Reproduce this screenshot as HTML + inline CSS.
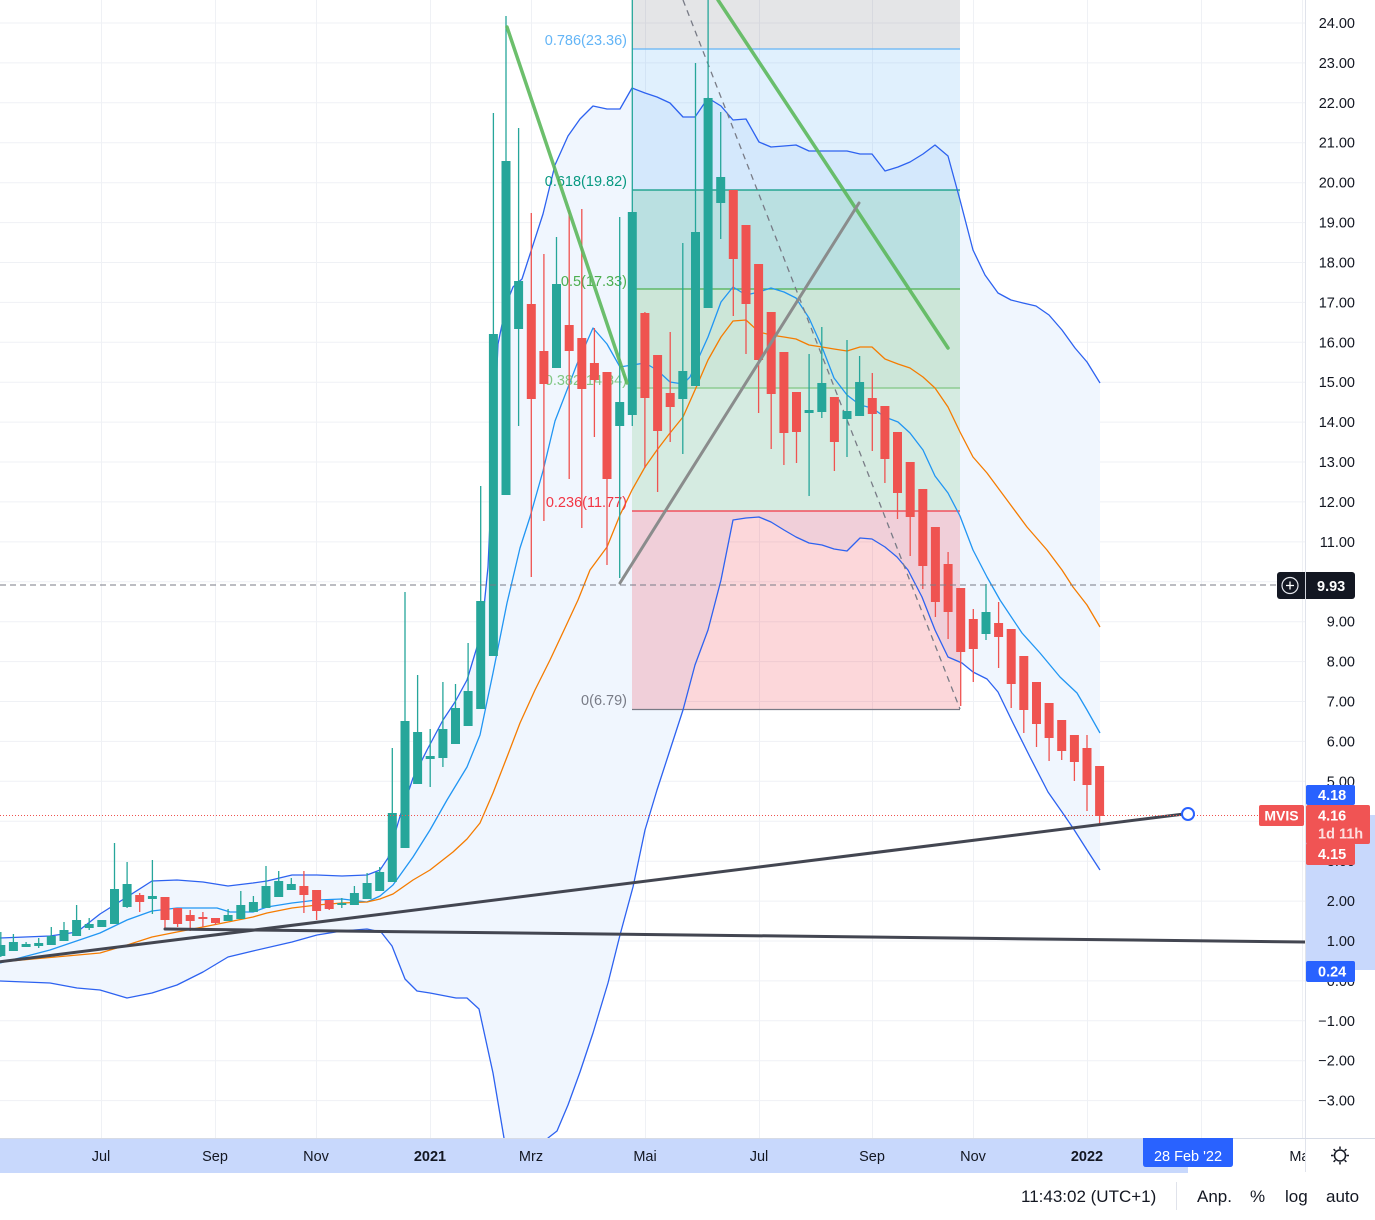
<!DOCTYPE html>
<html><head><meta charset="utf-8"><style>
html,body{margin:0;padding:0;background:#fff;}
svg{display:block;font-family:"Liberation Sans",Arial,sans-serif;}
</style></head><body>
<svg width="1375" height="1220" viewBox="0 0 1375 1220" xmlns="http://www.w3.org/2000/svg">
<defs>
<clipPath id="cc"><rect x="0" y="0" width="1305" height="1138"/></clipPath>
<clipPath id="tc"><rect x="0" y="1138" width="1305" height="40"/></clipPath>
</defs>
<rect width="1375" height="1220" fill="#fff"/>
<g clip-path="url(#cc)">
<!-- grid -->
<g stroke="#eff1f5" stroke-width="1">
<path d="M0 23H1305M0 62.9H1305M0 102.8H1305M0 142.7H1305M0 182.7H1305M0 222.6H1305M0 262.5H1305M0 302.4H1305M0 342.3H1305M0 382.2H1305M0 422.1H1305M0 462H1305M0 501.9H1305M0 541.9H1305M0 581.8H1305M0 621.7H1305M0 661.6H1305M0 701.5H1305M0 741.4H1305M0 781.3H1305M0 821.3H1305M0 861.2H1305M0 901.1H1305M0 941H1305M0 980.9H1305M0 1020.8H1305M0 1060.7H1305M0 1100.6H1305"/>
<path d="M101.5 0V1138M215.5 0V1138M316.5 0V1138M430.5 0V1138M531.5 0V1138M645.5 0V1138M759.5 0V1138M872.5 0V1138M973.5 0V1138M1087.5 0V1138M1201.5 0V1138M1302.5 0V1138"/>
</g>
<!-- BB fill -->
<path fill="#f0f6fe" d="M0 938L50 936L77 932L100 914L127 897L152 881L177 880L203 882L228 886L253 883L267 881L292 875L317 875L342 876L367 875L380 870L388 858L393 840L401 813L410 787L413 778L427 750L443 720L455 702L467 680L477 647L482 627L488 567L493 455L498 344L506 305L513 287L522 279L543 214L555 165L568 136L580 119L593 106L607 109L620 109L632 88L645 93L657 97L670 103L683 117L695 117L708 98L721 106L733 120L746 119L759 142L771 147L784 146L796 145L809 151L822 151L834 151L847 151L860 154L872 154L885 171L898 167L910 162L923 154L935 145L948 156L960 200L973 250L985 275L998 293L1011 300L1023 303L1036 306L1049 315L1062 330L1075 348L1087 362L1100 383L1100 870L1087 850L1073 828L1062 812L1048 792L1030 757L1013 723L998 692L987 679L973 672L962 663L948 657L935 630L922 597L908 570L897 557L885 547L872 539L860 538L847 551L834 549L822 545L809 543L796 537L784 530L771 522L759 517L746 518L733 520L721 580L708 630L695 665L683 710L670 750L657 790L645 830L633 887L620 935L608 983L593 1033L580 1072L568 1105L557 1131L548 1138L545 1170L508 1170L504 1138L493 1073L479 1009L467 998L456 998L430 993L417 991L405 979L392 946L381 932L367 929L342 931L317 935L292 942L253 951L228 957L203 972L177 985L152 993L127 998L100 990L77 988L50 983L0 981Z"/>
<!-- fib zones -->
<rect x="632" y="0" width="328" height="49" fill="#787b86" fill-opacity="0.2"/>
<rect x="632" y="49" width="328" height="141" fill="#64b5f6" fill-opacity="0.2"/>
<rect x="632" y="190" width="328" height="99" fill="#089981" fill-opacity="0.23"/>
<rect x="632" y="289" width="328" height="99" fill="#4caf50" fill-opacity="0.22"/>
<rect x="632" y="388" width="328" height="123" fill="#81c784" fill-opacity="0.24"/>
<rect x="632" y="511" width="328" height="198" fill="#f23645" fill-opacity="0.2"/>
<g stroke-width="1.2">
<path d="M632 49H960" stroke="#64b5f6"/>
<path d="M632 190H960" stroke="#089981"/>
<path d="M632 289H960" stroke="#4caf50"/>
<path d="M632 388H960" stroke="#81c784"/>
<path d="M632 511H960" stroke="#f23645"/>
<path d="M632 709.5H960" stroke="#787b86"/>
</g>
<!-- BB lines -->
<g fill="none" stroke-width="1.3" stroke-linejoin="round">
<polyline stroke="#2d62f0" points="0,938 50,936 77,932 100,914 127,897 152,881 177,880 203,882 228,886 253,883 267,881 292,875 317,875 342,876 367,875 380,870 388,858 393,840 401,813 410,787 413,778 427,750 443,720 455,702 467,680 477,647 482,627 488,567 493,455 498,344 506,305 513,287 522,279 543,214 555,165 568,136 580,119 593,106 607,109 620,109 632,88 645,93 657,97 670,103 683,117 695,117 708,98 721,106 733,120 746,119 759,142 771,147 784,146 796,145 809,151 822,151 834,151 847,151 860,154 872,154 885,171 898,167 910,162 923,154 935,145 948,156 960,200 973,250 985,275 998,293 1011,300 1023,303 1036,306 1049,315 1062,330 1075,348 1087,362 1100,383"/>
<polyline stroke="#2d62f0" points="0,981 50,983 77,988 100,990 127,998 152,993 177,985 203,972 228,957 253,951 292,942 317,935 342,931 367,929 381,932 392,946 405,979 417,991 430,993 456,998 467,998 479,1009 493,1073 504,1138 508,1170 545,1170 548,1138 557,1131 568,1105 580,1072 593,1033 608,983 620,935 633,887 645,830 657,790 670,750 683,710 695,665 708,630 721,580 733,520 746,518 759,517 771,522 784,530 796,537 809,543 822,545 834,549 847,551 860,538 872,539 885,547 897,557 908,570 922,597 935,630 948,657 962,663 973,672 987,679 998,692 1013,723 1030,757 1048,792 1062,812 1073,828 1087,850 1100,870"/>
<polyline stroke="#2196f3" points="0,963 50,950 100,933 127,920 152,911 177,908 203,908 217,908 230,912 253,912 267,907 292,903 317,900 342,899 367,902 380,896 393,885 413,857 430,830 447,800 467,767 480,735 493,673 507,603 520,548 530,517 543,471 555,421 567,390 577,364 593,328 607,344 620,367 632,365 645,363 657,370 670,382 683,384 690,377 708,337 721,302 733,287 746,295 759,292 771,288 784,292 796,298 809,318 822,347 834,378 847,395 860,405 872,408 885,417 898,422 910,433 923,450 935,476 948,493 960,516 973,550 987,577 1000,600 1022,633 1040,653 1060,677 1077,693 1087,710 1100,733"/>
<polyline stroke="#f57c00" points="0,962 100,953 127,945 152,937 177,932 203,927 228,922 253,917 267,913 292,908 317,905 342,903 367,902 380,899 393,894 413,880 430,870 453,852 467,839 480,823 493,793 507,757 520,723 535,690 550,660 565,628 578,600 590,570 607,547 620,515 632,490 645,467 657,450 670,433 683,417 695,390 708,360 721,337 733,321 746,320 759,332 771,335 784,337 796,339 809,345 822,347 834,349 847,351 860,347 872,347 885,359 898,364 910,368 923,377 935,388 948,407 960,432 973,457 987,473 1007,500 1027,527 1047,550 1062,570 1073,587 1087,605 1100,627"/>
</g>
<!-- fib labels -->
<g font-size="14.5" text-anchor="end">
<text x="627" y="45" fill="#64b5f6">0.786(23.36)</text>
<text x="627" y="186" fill="#089981">0.618(19.82)</text>
<text x="627" y="286" fill="#4caf50">0.5(17.33)</text>
<text x="627" y="385" fill="#81c784">0.382(14.84)</text>
<text x="627" y="507" fill="#f23645">0.236(11.77)</text>
<text x="627" y="705" fill="#787b86">0(6.79)</text>
</g>
<!-- fib trend dashed -->
<path d="M683 0L960 709" stroke="#787b86" stroke-width="1.3" stroke-dasharray="6 5" fill="none"/>
<!-- candles teal -->
<path fill="none" stroke="#26a69a" stroke-width="1.3" d="M0.8 932V957M13.4 934V951M26.1 942V947M38.7 938V948M51.3 927V945M64 922V941M76.6 905V936M89.2 918V930M101.8 920V927M114.5 843V924M127.1 862V908M152.4 860V914M228.1 909V921M240.8 891V919M253.4 896V912M266 866V908M278.7 871V897M291.3 878V890M341.8 898V908M354.4 886V905M367.1 873V899M379.7 867V891M392.3 748V882M405 592V848M417.6 675V784M430.2 729V787M442.9 682V767M455.5 684V744M468.1 643V726M480.7 486V709M493.4 113V656M506 16V495M518.6 128V426M556.5 237V368M619.7 217V578M632.3 0V426M682.8 243V454M695.5 63V386M708.1 0V308M720.7 112V239M809.1 354V496M821.8 327V418M847 340V457M859.6 356V416M986 584V640"/>
<g fill="#26a69a">
<rect x="-3.7" y="945" width="9" height="11"/>
<rect x="8.9" y="942" width="9" height="9"/>
<rect x="21.6" y="944" width="9" height="3"/>
<rect x="34.2" y="943" width="9" height="3"/>
<rect x="46.8" y="936" width="9" height="9"/>
<rect x="59.5" y="930" width="9" height="11"/>
<rect x="72.1" y="920" width="9" height="16"/>
<rect x="84.7" y="924" width="9" height="4"/>
<rect x="97.3" y="920" width="9" height="7"/>
<rect x="110" y="889" width="9" height="35"/>
<rect x="122.6" y="884" width="9" height="23"/>
<rect x="147.9" y="896" width="9" height="3"/>
<rect x="223.6" y="915" width="9" height="6"/>
<rect x="236.3" y="905" width="9" height="14"/>
<rect x="248.9" y="902" width="9" height="10"/>
<rect x="261.5" y="886" width="9" height="22"/>
<rect x="274.2" y="881" width="9" height="16"/>
<rect x="286.8" y="884" width="9" height="6"/>
<rect x="337.3" y="903" width="9" height="2"/>
<rect x="349.9" y="893" width="9" height="12"/>
<rect x="362.6" y="883" width="9" height="16"/>
<rect x="375.2" y="872" width="9" height="19"/>
<rect x="387.8" y="813" width="9" height="69"/>
<rect x="400.5" y="721" width="9" height="127"/>
<rect x="413.1" y="732" width="9" height="52"/>
<rect x="425.7" y="756" width="9" height="3"/>
<rect x="438.4" y="729" width="9" height="29"/>
<rect x="451" y="708" width="9" height="36"/>
<rect x="463.6" y="691" width="9" height="35"/>
<rect x="476.2" y="601" width="9" height="108"/>
<rect x="488.9" y="334" width="9" height="322"/>
<rect x="501.5" y="161" width="9" height="334"/>
<rect x="514.1" y="281" width="9" height="48"/>
<rect x="552" y="284" width="9" height="84"/>
<rect x="615.2" y="402" width="9" height="24"/>
<rect x="627.8" y="212" width="9" height="203"/>
<rect x="678.3" y="371" width="9" height="28"/>
<rect x="691" y="232" width="9" height="154"/>
<rect x="703.6" y="98" width="9" height="210"/>
<rect x="716.2" y="177" width="9" height="26"/>
<rect x="804.6" y="410" width="9" height="3"/>
<rect x="817.3" y="383" width="9" height="29"/>
<rect x="842.5" y="411" width="9" height="8"/>
<rect x="855.1" y="382" width="9" height="34"/>
<rect x="981.5" y="612" width="9" height="22"/>
</g>
<!-- candles red -->
<path fill="none" stroke="#ef5350" stroke-width="1.3" d="M139.7 893V912M165 897V930M177.6 908V927M190.2 910V931M202.9 912V927M215.5 918V925M303.9 871V913M316.6 890V920M329.2 900V910M531.3 213V577M543.9 254V521M569.2 210V479M581.8 209V528M594.4 328V437M607 372V565M644.9 312V468M657.6 355V492M670.2 332V442M733.3 190V316M746 225V354M758.6 264V413M771.2 312V449M783.9 352V465M796.5 392V463M834.4 397V471M872.3 373V451M884.9 406V483M897.5 432V519M910.2 462V556M922.8 489V589M935.4 527V617M948.1 552V639M960.7 588V706M973.3 609V682M998.6 602V668M1011.2 629V708M1023.8 656V733M1036.5 682V747M1049.1 703V761M1061.7 720V760M1074.4 735V781M1087 735V811M1099.6 766V824"/>
<g fill="#ef5350">
<rect x="135.2" y="895" width="9" height="7"/>
<rect x="160.5" y="897" width="9" height="23"/>
<rect x="173.1" y="908" width="9" height="16"/>
<rect x="185.7" y="915" width="9" height="6"/>
<rect x="198.4" y="917" width="9" height="2"/>
<rect x="211" y="918" width="9" height="5"/>
<rect x="299.4" y="886" width="9" height="9"/>
<rect x="312.1" y="890" width="9" height="21"/>
<rect x="324.7" y="900" width="9" height="9"/>
<rect x="526.8" y="304" width="9" height="95"/>
<rect x="539.4" y="351" width="9" height="33"/>
<rect x="564.7" y="325" width="9" height="26"/>
<rect x="577.3" y="338" width="9" height="51"/>
<rect x="589.9" y="363" width="9" height="17"/>
<rect x="602.5" y="372" width="9" height="107"/>
<rect x="640.4" y="313" width="9" height="85"/>
<rect x="653.1" y="355" width="9" height="76"/>
<rect x="665.7" y="393" width="9" height="14"/>
<rect x="728.8" y="190" width="9" height="69"/>
<rect x="741.5" y="225" width="9" height="79"/>
<rect x="754.1" y="264" width="9" height="96"/>
<rect x="766.7" y="312" width="9" height="82"/>
<rect x="779.4" y="352" width="9" height="81"/>
<rect x="792" y="392" width="9" height="40"/>
<rect x="829.9" y="397" width="9" height="45"/>
<rect x="867.8" y="398" width="9" height="16"/>
<rect x="880.4" y="406" width="9" height="53"/>
<rect x="893" y="432" width="9" height="61"/>
<rect x="905.7" y="462" width="9" height="55"/>
<rect x="918.3" y="489" width="9" height="77"/>
<rect x="930.9" y="527" width="9" height="75"/>
<rect x="943.6" y="564" width="9" height="48"/>
<rect x="956.2" y="588" width="9" height="64"/>
<rect x="968.8" y="619" width="9" height="30"/>
<rect x="994.1" y="623" width="9" height="14"/>
<rect x="1006.7" y="629" width="9" height="55"/>
<rect x="1019.3" y="656" width="9" height="54"/>
<rect x="1032" y="682" width="9" height="42"/>
<rect x="1044.6" y="703" width="9" height="35"/>
<rect x="1057.2" y="720" width="9" height="31"/>
<rect x="1069.9" y="735" width="9" height="27"/>
<rect x="1082.5" y="748" width="9" height="37"/>
<rect x="1095.1" y="766" width="9" height="50"/>
</g>
<!-- drawings -->
<g fill="none" stroke-linecap="round">
<path d="M507 27L627 383" stroke="#5cb85c" stroke-opacity="0.9" stroke-width="3.5"/>
<path d="M718 0L948 348" stroke="#5cb85c" stroke-opacity="0.9" stroke-width="3.5"/>
<path d="M620 583L859 203" stroke="#8a8c8c" stroke-width="3"/>
<path d="M-2 962L1188 813.5" stroke="#434651" stroke-width="3"/>
<path d="M165 929L1305 942" stroke="#434651" stroke-width="3"/>
</g>
<path d="M0 585H1278" stroke="#787b86" stroke-width="1" stroke-dasharray="6 4"/>
<path d="M0 815.5H1260" stroke="#ef5350" stroke-width="1" stroke-dasharray="1 2"/>
<circle cx="1188" cy="814" r="6" fill="#fff" stroke="#2962ff" stroke-width="2"/>
</g>
<!-- price axis -->
<rect x="1306" y="815" width="69" height="155" fill="#c8d8fc"/>
<path d="M1305.5 0V1172" stroke="#e0e3eb" stroke-width="1"/>
<g font-size="14.5" fill="#131722" text-anchor="end">
<text x="1355" y="28">24.00</text>
<text x="1355" y="67.9">23.00</text>
<text x="1355" y="107.8">22.00</text>
<text x="1355" y="147.7">21.00</text>
<text x="1355" y="187.7">20.00</text>
<text x="1355" y="227.6">19.00</text>
<text x="1355" y="267.5">18.00</text>
<text x="1355" y="307.4">17.00</text>
<text x="1355" y="347.3">16.00</text>
<text x="1355" y="387.2">15.00</text>
<text x="1355" y="427.1">14.00</text>
<text x="1355" y="467">13.00</text>
<text x="1355" y="506.9">12.00</text>
<text x="1355" y="546.9">11.00</text>
<text x="1355" y="626.7">9.00</text>
<text x="1355" y="666.6">8.00</text>
<text x="1355" y="706.5">7.00</text>
<text x="1355" y="746.4">6.00</text>
<text x="1355" y="786.3">5.00</text>
<text x="1355" y="866.2">3.00</text>
<text x="1355" y="906.1">2.00</text>
<text x="1355" y="946">1.00</text>
<text x="1355" y="985.9">0.00</text>
<text x="1355" y="1025.8">−1.00</text>
<text x="1355" y="1065.7">−2.00</text>
<text x="1355" y="1105.6">−3.00</text>
</g>
<!-- price labels -->
<rect x="1306" y="785" width="49" height="20" rx="2" fill="#2962ff"/>
<text x="1318" y="800" font-size="14.5" font-weight="bold" fill="#fff">4.18</text>
<rect x="1259" y="805" width="45" height="21" rx="2" fill="#f05454"/>
<text x="1281.5" y="820.5" font-size="14" font-weight="bold" fill="#fff" text-anchor="middle">MVIS</text>
<rect x="1306" y="805" width="64" height="39" rx="2" fill="#f05454"/>
<text x="1318" y="820.5" font-size="14.5" font-weight="bold" fill="#fff">4.16</text>
<text x="1318" y="838.5" font-size="14.5" font-weight="bold" fill="#fff" fill-opacity="0.82">1d 11h</text>
<rect x="1306" y="843" width="49" height="22" rx="2" fill="#f05454"/>
<text x="1318" y="859" font-size="14.5" font-weight="bold" fill="#fff">4.15</text>
<rect x="1306" y="961" width="49" height="21" rx="2" fill="#2962ff"/>
<text x="1318" y="976.5" font-size="14.5" font-weight="bold" fill="#fff">0.24</text>
<rect x="1277" y="572" width="78" height="27" rx="3" fill="#131722"/>
<path d="M1305.5 572V599" stroke="#d0d3db" stroke-width="1"/>
<circle cx="1290" cy="585.5" r="8" fill="none" stroke="#e6e8ee" stroke-width="1.2"/>
<path d="M1286 585.5H1294M1290 581.5V589.5" stroke="#fff" stroke-width="1.3"/>
<text x="1317" y="591" font-size="14.5" font-weight="bold" fill="#fff">9.93</text>
<!-- time axis -->
<rect x="0" y="1138" width="1188" height="35" fill="#c8d8fc"/>
<path d="M0 1138.5H1375" stroke="#d6dbe6" stroke-width="1"/>
<g font-size="14.5" fill="#131722" text-anchor="middle" clip-path="url(#tc)">
<text x="101" y="1161">Jul</text>
<text x="215" y="1161">Sep</text>
<text x="316" y="1161">Nov</text>
<text x="430" y="1161" font-weight="bold">2021</text>
<text x="531" y="1161">Mrz</text>
<text x="645" y="1161">Mai</text>
<text x="759" y="1161">Jul</text>
<text x="872" y="1161">Sep</text>
<text x="973" y="1161">Nov</text>
<text x="1087" y="1161" font-weight="bold">2022</text>
<text x="1301" y="1161">Mai</text>
</g>
<path d="M1143 1138H1233V1164Q1233 1167 1230 1167H1146Q1143 1167 1143 1164Z" fill="#2962ff"/>
<text x="1188" y="1161" font-size="14.5" fill="#fff" text-anchor="middle">28 Feb '22</text>
<g stroke="#131722" stroke-width="1.5" fill="none">
<circle cx="1340" cy="1155.5" r="5.5"/>
<path d="M1340 1146.5V1149M1340 1162V1164.5M1331 1155.5H1333.5M1346.5 1155.5H1349M1333.6 1149.1L1335.4 1150.9M1344.6 1160.1L1346.4 1161.9M1346.4 1149.1L1344.6 1150.9M1335.4 1160.1L1333.6 1161.9"/>
</g>
<!-- bottom toolbar -->
<g font-size="17" fill="#131722">
<text x="1021" y="1202">11:43:02 (UTC+1)</text>
<text x="1197" y="1202">Anp.</text>
<text x="1250" y="1202">%</text>
<text x="1285" y="1202">log</text>
<text x="1326" y="1202">auto</text>
</g>
<path d="M1176.5 1182V1210" stroke="#e0e3eb" stroke-width="1"/>
</svg>
</body></html>
